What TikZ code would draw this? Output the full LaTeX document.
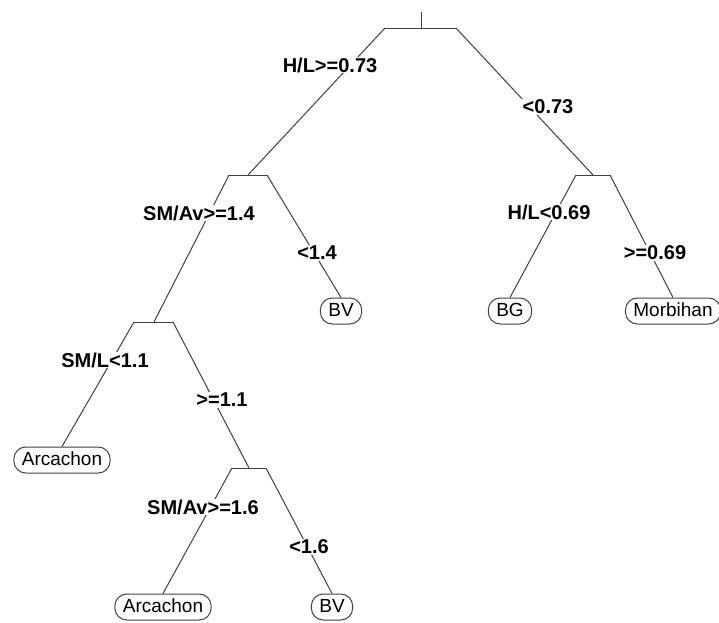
\documentclass[tikz,border=0pt]{standalone}
\usepackage{fontspec}
\setmainfont{Liberation Sans}
\usepackage{tikz}
\usetikzlibrary{positioning}

\begin{document}
\begin{tikzpicture}[
    x=1pt, y=-1pt,
    branch/.style={draw=black!75, line width=1pt},
    split/.style={fill=white, inner sep=1pt, font=\fontsize{20}{22}\selectfont\bfseries},
    leaf/.style={draw=black!75, line width=1pt, rounded corners=12pt, inner xsep=8pt, inner ysep=0pt, minimum height=26pt, text height=13.5pt, text depth=3pt, font=\fontsize{19}{21}\selectfont}
]
    \useasboundingbox (0,0) rectangle (719,622);

    % Split points
    \coordinate (top) at (421,12);
    \coordinate (n1) at (421,28);  \coordinate (n1l) at (385,28);  \coordinate (n1r) at (456,28);
    \coordinate (n2) at (248,175); \coordinate (n2l) at (229,175); \coordinate (n2r) at (267,175);
    \coordinate (n3) at (593,175); \coordinate (n3l) at (576,175); \coordinate (n3r) at (610,175);
    \coordinate (n4) at (154,322); \coordinate (n4l) at (134,322); \coordinate (n4r) at (173,322);
    \coordinate (n5) at (249,468); \coordinate (n5l) at (232,468); \coordinate (n5r) at (266,468);

    % Leaves
    \node[leaf] (bv1) at (341,311) {BV};
    \node[leaf] (bg) at (510,311) {BG};
    \node[leaf] (morb) at (673,311) {Morbihan};
    \node[leaf] (arc1) at (62,460) {Arcachon};
    \node[leaf] (arc2) at (163,607) {Arcachon};
    \node[leaf] (bv2) at (332,607) {BV};

    % Edges
    \draw[branch] (top) -- (n1);
    \draw[branch] (n1l) -- (n1r);
    \draw[branch] (n2l) -- (n2r);
    \draw[branch] (n3l) -- (n3r);
    \draw[branch] (n4l) -- (n4r);
    \draw[branch] (n5l) -- (n5r);

    \draw[branch] (n1l) -- (n2);
    \draw[branch] (n1r) -- (n3);
    \draw[branch] (n2l) -- (n4);
    \draw[branch] (n2r) -- (bv1.north);
    \draw[branch] (n3l) -- (bg.north);
    \draw[branch] (n3r) -- (morb.north);
    \draw[branch] (n4l) -- (arc1.north);
    \draw[branch] (n4r) -- (n5);
    \draw[branch] (n5l) -- (arc2.north);
    \draw[branch] (n5r) -- (bv2.north);

    % Split labels
    \node[split] (s1) at (330,65) {H/L>=0.73};
    \node[split] (s2) at (548,107) {<0.73};
    \node[split] (s3) at (199,213) {SM/Av>=1.4};
    \node[split] (s4) at (317,253) {<1.4};
    \node[split] (s5) at (549,212) {H/L<0.69};
    \node[split] (s6) at (655,253) {>=0.69};
    \node[split] (s7) at (105,360) {SM/L<1.1};
    \node[split] (s8) at (222,400) {>=1.1};
    \node[split] (s9) at (203,507) {SM/Av>=1.6};
    \node[split] (s10) at (309,547) {<1.6};

\end{tikzpicture}
\end{document}
